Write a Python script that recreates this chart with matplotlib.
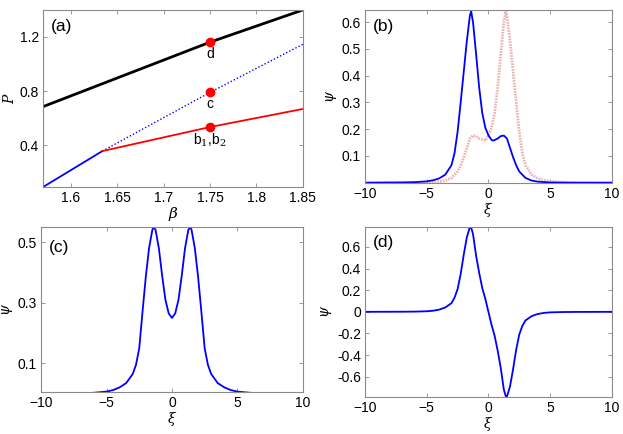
import matplotlib
matplotlib.use("Agg")
import matplotlib.pyplot as plt

# =====================================================
# DATA
# =====================================================

# (a) power P versus propagation constant beta
beta_top = [1.57, 1.75, 1.85]
p_top = [0.685, 1.16, 1.397]

beta_low = [1.57, 1.634]
p_low = [0.093, 0.358]

beta_unstable = [1.634, 1.75, 1.85]
p_unstable = [0.358, 0.79, 1.144]

beta_asym = [1.634, 1.75, 1.85]
p_asym = [0.358, 0.535, 0.668]

beta_marks = [1.75, 1.75, 1.75]
p_marks = [1.16, 0.79, 0.535]
mark_labels = ["d", "c", r"b$_1$,b$_2$"]

# (b) asymmetric profiles
xi_b = [-10, -7, -6, -5, -4.5, -4, -3.5, -3, -2.75, -2.5, -2.25, -2,
        -1.75, -1.5, -1.4, -1.25, -1, -0.75, -0.5, -0.25, 0, 0.25, 0.4,
        0.75, 1, 1.25, 1.5, 1.75, 2, 2.25, 2.5, 3, 3.5, 4, 5, 7, 10]
psi_b1 = [0.0, 0.001, 0.002, 0.005, 0.009, 0.016, 0.03, 0.065, 0.11, 0.19,
          0.30, 0.415, 0.53, 0.625, 0.64, 0.60, 0.48, 0.355, 0.26, 0.205,
          0.177, 0.16, 0.157, 0.165, 0.174, 0.176, 0.165, 0.13, 0.095,
          0.065, 0.042, 0.018, 0.008, 0.004, 0.001, 0.0, 0.0]
psi_b2 = [0.0, 0.0, 0.001, 0.004, 0.008, 0.018, 0.042, 0.065, 0.095, 0.13,
          0.165, 0.176, 0.174, 0.165, 0.16, 0.157, 0.177, 0.205, 0.26,
          0.355, 0.48, 0.60, 0.64, 0.625, 0.53, 0.415, 0.30, 0.19, 0.11,
          0.065, 0.03, 0.016, 0.009, 0.005, 0.002, 0.001, 0.0]
xi_b2 = [-10, -7, -5, -4, -3.5, -3, -2.5, -2.25, -2, -1.75, -1.5, -1.25,
         -1, -0.75, -0.4, -0.25, 0, 0.25, 0.5, 0.75, 1, 1.25, 1.4, 1.5,
         1.75, 2, 2.25, 2.5, 2.75, 3, 3.5, 4, 4.5, 5, 6, 7, 10]

# (c) symmetric two-hump profile
xi_c = [-10, -7, -6, -5, -4.5, -4, -3.5, -3, -2.75, -2.5, -2.25, -2,
        -1.75, -1.5, -1.4, -1.25, -1, -0.75, -0.5, -0.25, 0, 0.25, 0.5,
        0.75, 1, 1.25, 1.4, 1.5, 1.75, 2, 2.25, 2.5, 2.75, 3, 3.5, 4,
        4.5, 5, 6, 7, 10]
psi_c = [0.0, 0.001, 0.003, 0.007, 0.012, 0.021, 0.035, 0.065, 0.095,
         0.15, 0.27, 0.385, 0.48, 0.54, 0.55, 0.54, 0.48, 0.39, 0.31,
         0.265, 0.25, 0.265, 0.31, 0.39, 0.48, 0.54, 0.55, 0.54, 0.48,
         0.385, 0.27, 0.15, 0.095, 0.065, 0.035, 0.021, 0.012, 0.007,
         0.003, 0.001, 0.0]

# (d) antisymmetric (dipole) profile
xi_d = [-10, -7, -6, -5, -4.5, -4, -3.5, -3, -2.75, -2.5, -2.25, -2,
        -1.75, -1.5, -1.4, -1.25, -1, -0.75, -0.5, -0.25, 0, 0.25, 0.5,
        0.75, 1, 1.25, 1.4, 1.5, 1.75, 2, 2.25, 2.5, 2.75, 3, 3.5, 4,
        4.5, 5, 6, 7, 10]
psi_d = [0.0, 0.001, 0.002, 0.005, 0.01, 0.02, 0.04, 0.08, 0.13, 0.21,
         0.35, 0.53, 0.69, 0.785, 0.78, 0.72, 0.52, 0.36, 0.22, 0.12,
         0.0, -0.12, -0.22, -0.36, -0.52, -0.72, -0.78, -0.785, -0.69,
         -0.53, -0.35, -0.21, -0.13, -0.08, -0.04, -0.02, -0.01, -0.005,
         -0.002, -0.001, 0.0]

# =====================================================
# STYLE
# =====================================================

plt.rcParams["font.family"] = ["Liberation Sans", "DejaVu Sans"]
plt.rcParams["font.size"] = 9.5
plt.rcParams["mathtext.fontset"] = "dejavuserif"

BLUE = "#0000ff"
SPINE = "#8a8a8a"


def matlab_axes(ax):

    for s in ax.spines.values():
        s.set_color(SPINE)
        s.set_linewidth(0.8)

    ax.tick_params(
        direction="in",
        top=True,
        right=True,
        length=3,
        width=0.6,
        color=SPINE,
        labelsize=10,
        pad=3
    )


fig = plt.figure(figsize=(6.23, 4.34), dpi=100)

ax_a = fig.add_axes([0.069, 0.569, 0.417, 0.408])
ax_b = fig.add_axes([0.586, 0.579, 0.396, 0.398])
ax_c = fig.add_axes([0.066, 0.097, 0.420, 0.380])
ax_d = fig.add_axes([0.586, 0.086, 0.396, 0.391])

# =====================================================
# (a)
# =====================================================

ax_a.plot(beta_top, p_top, color="black", lw=2)
ax_a.plot(beta_low, p_low, color=BLUE, lw=1.3)
ax_a.plot(beta_unstable, p_unstable, color=BLUE, lw=1, ls=(0, (1, 1.5)))
ax_a.plot(beta_asym, p_asym, color="red", lw=1.3)
ax_a.plot(beta_marks, p_marks, "o", color="red", ms=6)

for b, p, lab in zip(beta_marks, p_marks, mark_labels):
    ax_a.text(b, p - 0.035, lab, ha="center", va="top", fontsize=10)

ax_a.set_xlim(1.57, 1.85)
ax_a.set_ylim(0.093, 1.397)
ax_a.set_xticks([1.6, 1.65, 1.7, 1.75, 1.8, 1.85])
ax_a.set_xticklabels(["1.6", "1.65", "1.7", "1.75", "1.8", "1.85"])
ax_a.set_yticks([0.4, 0.8, 1.2])
ax_a.set_yticklabels(["0.4", "0.8", "1.2"])
ax_a.set_xlabel(r"$\beta$", fontsize=11, labelpad=0)
ax_a.set_ylabel(r"$P$", fontsize=10, labelpad=2)
ax_a.text(0.03, 0.95, "(a)", transform=ax_a.transAxes,
          ha="left", va="top", fontsize=12.5)
matlab_axes(ax_a)

# =====================================================
# (b)
# =====================================================

ax_b.plot(xi_b2, psi_b2, color="#e39a9a", lw=2, alpha=0.75,
          ls=(0, (0.6, 0.4)))
ax_b.plot(xi_b, psi_b1, color=BLUE, lw=1.3)
ax_b.set_xlim(-10, 10)
ax_b.set_ylim(0, 0.645)
ax_b.set_xticks([-10, -5, 0, 5, 10])
ax_b.set_yticks([0.1, 0.2, 0.3, 0.4, 0.5, 0.6])
ax_b.set_xlabel(r"$\xi$", fontsize=10, labelpad=0)
ax_b.set_ylabel(r"$\psi$", fontsize=10, labelpad=2)
ax_b.text(0.03, 0.95, "(b)", transform=ax_b.transAxes,
          ha="left", va="top", fontsize=12.5)
matlab_axes(ax_b)

# =====================================================
# (c)
# =====================================================

ax_c.plot(xi_c, psi_c, color=BLUE, lw=1.3)
ax_c.set_xlim(-10, 10)
ax_c.set_ylim(0.006, 0.55)
ax_c.set_xticks([-10, -5, 0, 5, 10])
ax_c.set_yticks([0.1, 0.3, 0.5])
ax_c.set_xlabel(r"$\xi$", fontsize=10, labelpad=0)
ax_c.set_ylabel(r"$\psi$", fontsize=10, labelpad=2)
ax_c.text(0.03, 0.92, "(c)", transform=ax_c.transAxes,
          ha="left", va="top", fontsize=12.5)
matlab_axes(ax_c)

# =====================================================
# (d)
# =====================================================

ax_d.plot(xi_d, psi_d, color=BLUE, lw=1.3)
ax_d.set_xlim(-10, 10)
ax_d.set_ylim(-0.785, 0.785)
ax_d.set_xticks([-10, -5, 0, 5, 10])
ax_d.set_yticks([-0.6, -0.4, -0.2, 0, 0.2, 0.4, 0.6])
ax_d.set_yticklabels(["-0.6", "-0.4", "-0.2", "0", "0.2", "0.4", "0.6"])
ax_d.set_xlabel(r"$\xi$", fontsize=10, labelpad=0)
ax_d.set_ylabel(r"$\psi$", fontsize=10, labelpad=2)
ax_d.text(0.03, 0.95, "(d)", transform=ax_d.transAxes,
          ha="left", va="top", fontsize=12.5)
matlab_axes(ax_d)

fig.savefig("out.png", dpi=100)
print("WROTE: out.png")
